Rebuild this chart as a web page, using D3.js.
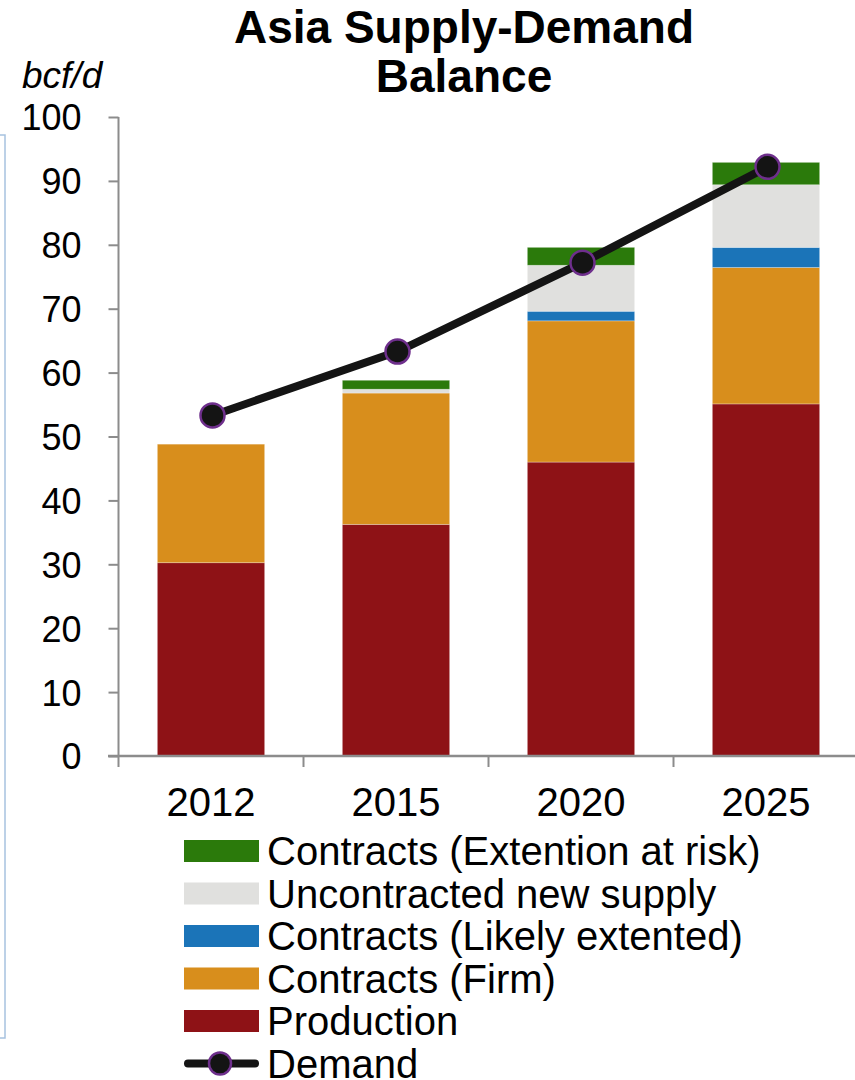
<!DOCTYPE html>
<html>
<head>
<meta charset="utf-8">
<script src="https://cdn.jsdelivr.net/npm/d3@7"></script>
<style>
  html, body { margin: 0; padding: 0; background: #fff; }
  svg { display: block; font-family: "Liberation Sans", Arial, sans-serif; }
</style>
</head>
<body>
<svg id="chart" width="855" height="1080"></svg>
<script>
// chart data (bcf/d)
const years = ["2012", "2015", "2020", "2025"];
const production = [30.25, 36.25, 46.0, 55.1];
const contractsFirm = [18.55, 20.55, 22.1, 21.35];
const contractsLikely = [0, 0, 1.5, 3.15];
const uncontracted = [0, 0.6, 7.2, 9.8];
const contractsRisk = [0, 1.4, 2.8, 3.5];
const demand = [53.3, 63.3, 77.2, 92.2];
const yTicks = [0, 10, 20, 30, 40, 50, 60, 70, 80, 90, 100];

// stack order bottom -> top
const seriesKeys = ["production", "firm", "likely", "uncontracted", "risk"];
const seriesValues = {
  production: production,
  firm: contractsFirm,
  likely: contractsLikely,
  uncontracted: uncontracted,
  risk: contractsRisk
};
const seriesColor = {
  production: "#8e1216",
  firm: "#d88e1c",
  likely: "#1b74b8",
  uncontracted: "#e0e0de",
  risk: "#2b7a0b"
};
// legend runs top -> bottom
const legendItems = [
  { key: "risk", label: "Contracts (Extention at risk)" },
  { key: "uncontracted", label: "Uncontracted new supply" },
  { key: "likely", label: "Contracts (Likely extented)" },
  { key: "firm", label: "Contracts (Firm)" },
  { key: "production", label: "Production" },
  { key: "demand", label: "Demand" }
];

const svg = d3.select("#chart");
const axisColor = "#8c8c8c";

const x = d3.scaleBand()
  .domain(years)
  .range([118.5, 858.5])
  .paddingInner(0.42)
  .paddingOuter(0.21);

const y = d3.scaleLinear()
  .domain([0, 100])
  .range([756, 117]);

// light blue frame edge on the left
svg.append("rect")
  .attr("x", -20).attr("y", 135)
  .attr("width", 25).attr("height", 903)
  .attr("fill", "none")
  .attr("stroke", "#a7c2df")
  .attr("stroke-width", 1.5);

// title + unit
svg.append("text")
  .attr("x", 464).attr("y", 43)
  .attr("text-anchor", "middle")
  .attr("font-size", 46).attr("font-weight", "bold")
  .text("Asia Supply-Demand");
svg.append("text")
  .attr("x", 464).attr("y", 92)
  .attr("text-anchor", "middle")
  .attr("font-size", 46).attr("font-weight", "bold")
  .text("Balance");
svg.append("text")
  .attr("x", 22).attr("y", 88)
  .attr("font-size", 37).attr("font-style", "italic")
  .text("bcf/d");

// stacked bars
const table = years.map((yr, i) => {
  const row = { year: yr };
  seriesKeys.forEach(k => row[k] = seriesValues[k][i]);
  return row;
});
const stacked = d3.stack().keys(seriesKeys)(table);

svg.append("g")
  .selectAll("g")
  .data(stacked)
  .join("g")
  .attr("fill", d => seriesColor[d.key])
  .selectAll("rect")
  .data(d => d.filter(p => p[1] - p[0] > 0))
  .join("rect")
  .attr("x", d => x(d.data.year))
  .attr("width", x.bandwidth())
  .attr("y", d => y(d[1]))
  .attr("height", d => y(d[0]) - y(d[1]))
  .attr("stroke", "#ffffff")
  .attr("stroke-opacity", 0.35)
  .attr("stroke-width", 0.8);

// y axis
const yAxis = d3.axisLeft(y)
  .tickValues(yTicks)
  .tickSize(10)
  .tickPadding(27)
  .tickFormat(d3.format("d"));
const gy = svg.append("g")
  .attr("transform", "translate(118.5,0)")
  .call(yAxis);
gy.select(".domain").remove();
gy.selectAll(".tick line").attr("stroke", axisColor).attr("stroke-width", 2);
gy.selectAll(".tick text")
  .attr("font-size", 36)
  .attr("font-family", "Liberation Sans, Arial, sans-serif")
  .attr("fill", "#000")
  .attr("dy", "0.36em");
svg.append("line")
  .attr("x1", 118.5).attr("x2", 118.5)
  .attr("y1", y(100)).attr("y2", 767)
  .attr("stroke", axisColor).attr("stroke-width", 2);

// x axis
svg.append("line")
  .attr("x1", 108).attr("x2", 855)
  .attr("y1", y(0)).attr("y2", y(0))
  .attr("stroke", axisColor).attr("stroke-width", 2.5);
const step = x.step();
svg.append("g")
  .selectAll("line")
  .data(years.slice(1))
  .join("line")
  .attr("x1", d => x(d) - step * x.paddingInner() / 2)
  .attr("x2", d => x(d) - step * x.paddingInner() / 2)
  .attr("y1", y(0)).attr("y2", 767)
  .attr("stroke", axisColor).attr("stroke-width", 2);
svg.append("g")
  .selectAll("text")
  .data(years)
  .join("text")
  .attr("x", d => x(d) + x.bandwidth() / 2)
  .attr("y", 816)
  .attr("text-anchor", "middle")
  .attr("font-size", 40)
  .text(d => d);

// demand line
const cx = i => x(years[i]) + x.bandwidth() / 2 + 1.5;
const line = d3.line()
  .x((d, i) => cx(i))
  .y(d => y(d));
svg.append("path")
  .datum(demand)
  .attr("d", line)
  .attr("fill", "none")
  .attr("stroke", "#141414")
  .attr("stroke-width", 8);
svg.append("g")
  .selectAll("circle")
  .data(demand)
  .join("circle")
  .attr("cx", (d, i) => cx(i))
  .attr("cy", d => y(d))
  .attr("r", 12)
  .attr("fill", "#141414")
  .attr("stroke", "#6e2f8c")
  .attr("stroke-width", 2.5);

// legend
const legend = svg.append("g").attr("transform", "translate(184,840)");
const rowH = 42.5;
const rows = legend.selectAll("g")
  .data(legendItems)
  .join("g")
  .attr("transform", (d, i) => `translate(0,${i * rowH})`);

rows.filter(d => d.key !== "demand")
  .append("rect")
  .attr("width", 75).attr("height", 22)
  .attr("fill", d => seriesColor[d.key]);

const demandRow = rows.filter(d => d.key === "demand");
demandRow.append("line")
  .attr("x1", 4).attr("x2", 71)
  .attr("y1", 11).attr("y2", 11)
  .attr("stroke", "#141414")
  .attr("stroke-width", 8)
  .attr("stroke-linecap", "round");
demandRow.append("circle")
  .attr("cx", 36).attr("cy", 11).attr("r", 11)
  .attr("fill", "#141414")
  .attr("stroke", "#6e2f8c")
  .attr("stroke-width", 2.5);

rows.append("text")
  .attr("x", 83)
  .attr("y", 11)
  .attr("dy", "0.36em")
  .attr("font-size", 40)
  .text(d => d.label);
</script>
</body>
</html>
